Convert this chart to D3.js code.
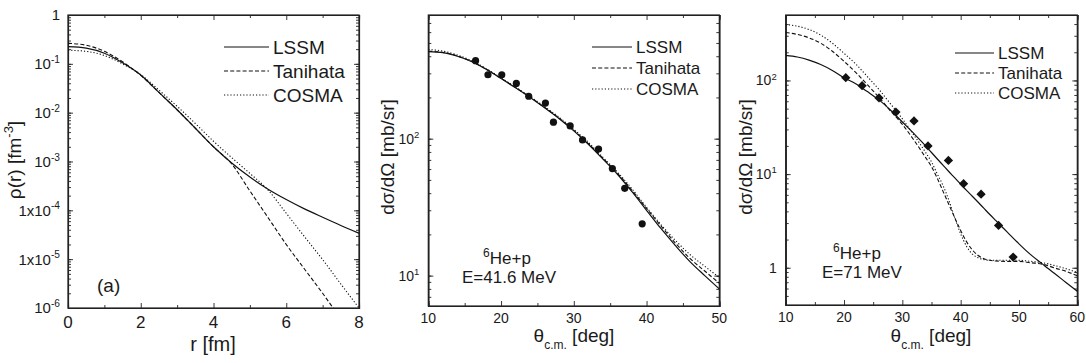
<!DOCTYPE html>
<html><head><meta charset="utf-8">
<script src="https://cdn.jsdelivr.net/npm/d3@7"></script>
<style>
html,body{margin:0;padding:0;background:#fff;}
svg text{font-family:"Liberation Sans",Arial,Helvetica,sans-serif;fill:#1a1a1a;}
</style></head>
<body>
<svg id="chart" width="1086" height="363"></svg>
<script>
// ---------- Panel (a): density rho(r) ----------
const rGrid = [0,0.5,1,1.5,2,2.5,3,3.5,4,4.5,5,5.5,6,6.5,7,7.5,8];
const rhoLSSM = [0.225,0.21,0.165,0.105,0.059,0.026,0.0115,4.8e-3,2.0e-3,9.3e-4,4.8e-4,2.7e-4,1.66e-4,1.07e-4,7.2e-5,4.9e-5,3.4e-5];
const rhoTanihata = [0.263,0.24,0.18,0.11,0.058,0.026,0.0114,4.8e-3,2.0e-3,8.9e-4,2.5e-4,7.1e-5,2.0e-5,6.3e-6,2.0e-6,6.0e-7,1.8e-7];
const rhoCOSMA = [0.19,0.18,0.148,0.1,0.06,0.029,0.0135,6.0e-3,2.6e-3,1.2e-3,5.7e-4,2.6e-4,8.7e-5,2.9e-5,9.8e-6,3.1e-6,1.0e-6];

// ---------- Panel (b): 6He+p at 41.6 MeV ----------
const thB = [10,12,14,16,18,20,22,24,26,28,30,32,34,36,38,40,42,44,46,48,50];
const sigB_LSSM = [432,425,400,365,320,275,235,200,168,140,114,91,71,55,41,30,22,16.5,12.6,10,8.0];
const sigB_Tanihata = [435,427,402,366,321,276,236,201,169,141,115,92,72,56,42,31,23,17.2,13.3,10.8,8.8];
const sigB_COSMA = [448,436,408,370,324,278,238,203,171,143,117,94,73,57,43,31.5,23.5,18,14.2,11.7,9.7];
const expB_theta = [16.5,18.2,20.1,22.1,23.8,26.1,27.2,29.5,31.2,33.4,35.3,37.0,39.4];
const expB_sigma = [371,293,293,253,204,182,132,124,98,84,60.5,43.4,23.9];

// ---------- Panel (c): 6He+p at 71 MeV ----------
const thC = [10,12,14,16,18,20,22,24,26,28,30,32,34,35,36,37,38,39,40,41,42,43,44,45,46,48,50,52,54,55,56,58,60];
const sigC_LSSM = [185,178,165,148,128,107,92,76,62,48,36,27,20,17,14.5,12.4,10.6,9.1,7.8,6.7,5.8,5.0,4.3,3.7,3.2,2.4,1.8,1.38,1.1,0.98,0.88,0.7,0.56];
const sigC_Tanihata = [325,310,285,250,205,160,122,90,66,47,34,23,15,12,9,6.5,4.7,3.4,2.5,1.9,1.55,1.35,1.25,1.2,1.18,1.17,1.17,1.13,1.09,1.05,1.0,0.92,0.82];
const sigC_COSMA = [395,380,350,305,250,195,150,110,80,56,39,26,17,13.5,10,7.5,5.2,3.4,2.3,1.7,1.4,1.28,1.22,1.2,1.2,1.2,1.2,1.17,1.13,1.1,1.06,0.98,0.89];
const expC_theta = [20.3,23.1,26.0,28.9,32.0,34.4,37.9,40.5,43.5,46.5,49.0];
const expC_sigma = [107,88,65,46,37,20,14,7.9,6.1,2.83,1.3];

const seriesNames = ["LSSM","Tanihata","COSMA"];
const dashes = [null,"4,2.2","1.2,2"];

const svg = d3.select("#chart");

function logMinorTicks(domain){
  const out=[]; const lo=Math.floor(Math.log10(domain[0])), hi=Math.ceil(Math.log10(domain[1]));
  for(let e=lo;e<=hi;e++) for(let m=1;m<10;m++){const v=m*Math.pow(10,e); if(v>=domain[0]*0.999&&v<=domain[1]*1.001) out.push(v);}
  return out;
}

function panel(cfg){
  const g = svg.append("g");
  const x = d3.scaleLinear().domain(cfg.xDomain).range([cfg.left,cfg.right]);
  const y = d3.scaleLog().domain(cfg.yDomain).range([cfg.bottom,cfg.top]);
  const W = cfg.right-cfg.left, H = cfg.bottom-cfg.top;
  const majL=5, minL=3;
  const xMajor = d3.range(cfg.xDomain[0], cfg.xDomain[1]+1e-9, cfg.xStep);
  const xMinor = d3.range(cfg.xDomain[0], cfg.xDomain[1]+1e-9, cfg.xStep/2).filter(v=>!xMajor.some(m=>Math.abs(m-v)<1e-9));
  const yMinor = logMinorTicks(cfg.yDomain);
  const axB = g.append("g").attr("transform",`translate(0,${cfg.bottom})`);
  axB.call(d3.axisBottom(x).tickValues(xMajor).tickSize(-majL).tickFormat(""));
  axB.append("g").call(d3.axisBottom(x).tickValues(xMinor).tickSize(-minL).tickFormat(""));
  const axT = g.append("g").attr("transform",`translate(0,${cfg.top})`);
  axT.call(d3.axisTop(x).tickValues(xMajor).tickSize(-majL).tickFormat(""));
  axT.append("g").call(d3.axisTop(x).tickValues(xMinor).tickSize(-minL).tickFormat(""));
  const axL = g.append("g").attr("transform",`translate(${cfg.left},0)`);
  axL.call(d3.axisLeft(y).tickValues(cfg.yMajor).tickSize(-majL).tickFormat(""));
  axL.append("g").call(d3.axisLeft(y).tickValues(yMinor).tickSize(-minL).tickFormat(""));
  const axR = g.append("g").attr("transform",`translate(${cfg.right},0)`);
  axR.call(d3.axisRight(y).tickValues(cfg.yMajor).tickSize(-majL).tickFormat(""));
  axR.append("g").call(d3.axisRight(y).tickValues(yMinor).tickSize(-minL).tickFormat(""));
  g.selectAll(".domain").attr("stroke","#222").attr("stroke-width",1.1);
  g.selectAll(".tick line").attr("stroke","#222").attr("stroke-width",0.9);
  g.append("rect").attr("x",cfg.left).attr("y",cfg.top).attr("width",W).attr("height",H)
    .attr("fill","none").attr("stroke","#222").attr("stroke-width",1.2);

  g.selectAll("text.xt").data(xMajor).enter().append("text").attr("class","xt")
    .attr("x",d=>x(d)).attr("y",cfg.bottom+cfg.xLabDy).attr("text-anchor","middle")
    .attr("font-size",cfg.xTickFs).text(d=>d);
  cfg.yLabels.forEach((lab,i)=>{
    const t = g.append("text").attr("x",cfg.left-cfg.yLabGap).attr("y",y(cfg.yMajor[i])+cfg.tickFs*0.36)
      .attr("text-anchor","end").attr("font-size",cfg.tickFs);
    t.append("tspan").text(lab[0]);
    if(lab[1]) t.append("tspan").attr("dy",-cfg.tickFs*0.42).attr("font-size",cfg.tickFs*0.68).text(lab[1]);
  });

  const line = d3.line().x(d=>x(d[0])).y(d=>y(d[1])).curve(d3.curveMonotoneX);
  const clipId = "clip"+cfg.id;
  svg.append("clipPath").attr("id",clipId).append("rect").attr("x",cfg.left).attr("y",cfg.top).attr("width",W).attr("height",H);
  cfg.curves.forEach((vals,i)=>{
    g.append("path").datum(cfg.xs.map((v,j)=>[v,vals[j]]))
      .attr("d",line).attr("fill","none").attr("stroke","#111")
      .attr("stroke-width",i===0?1.2:1.1).attr("stroke-dasharray",dashes[i])
      .attr("clip-path",`url(#${clipId})`);
  });

  if(cfg.exp){
    const pts = cfg.exp.x.map((v,j)=>[v,cfg.exp.y[j]]);
    if(cfg.exp.shape==="circle"){
      g.selectAll("circle.pt").data(pts).enter().append("circle").attr("class","pt")
        .attr("cx",d=>x(d[0])).attr("cy",d=>y(d[1])).attr("r",3.6).attr("fill","#111");
    } else {
      const sym = d3.symbol().type(d3.symbolDiamond2).size(55);
      g.selectAll("path.pt").data(pts).enter().append("path").attr("class","pt")
        .attr("transform",d=>`translate(${x(d[0])},${y(d[1])})`).attr("d",sym).attr("fill","#111");
    }
  }

  seriesNames.forEach((nm,i)=>{
    const ly = cfg.leg.y0 + i*cfg.leg.dy;
    g.append("line").attr("x1",cfg.leg.x1).attr("x2",cfg.leg.x2).attr("y1",ly).attr("y2",ly)
      .attr("stroke","#111").attr("stroke-width",i===0?1.2:1.1).attr("stroke-dasharray",dashes[i]);
    g.append("text").attr("x",cfg.leg.tx).attr("y",ly+cfg.leg.fs*0.36).attr("font-size",cfg.leg.fs).text(nm);
  });

  cfg.titles(g, x, y);
  return g;
}

// Panel (a)
panel({
  id:"a", left:68, right:359, top:15, bottom:308,
  xDomain:[0,8], xStep:2, yDomain:[1e-6,1],
  yMajor:[1,1e-1,1e-2,1e-3,1e-4,1e-5,1e-6],
  yLabels:[["1",""],["10","-1"],["10","-2"],["10","-3"],["1x10","-4"],["1x10","-5"],["10","-6"]],
  tickFs:15, xTickFs:17, xLabDy:20, yLabGap:8,
  xs:rGrid, curves:[rhoLSSM,rhoTanihata,rhoCOSMA],
  leg:{x1:224,x2:269,tx:273,y0:47,dy:24,fs:19},
  titles:(g)=>{
    g.append("text").attr("x",213).attr("y",351).attr("text-anchor","middle").attr("font-size",20).text("r [fm]");
    const t=g.append("text").attr("transform","translate(21,160) rotate(-90)").attr("text-anchor","middle").attr("font-size",19);
    t.append("tspan").text("ρ(r) [fm");
    t.append("tspan").attr("dy",-8).attr("font-size",13).text("-3");
    t.append("tspan").attr("dy",8).text("]");
    g.append("text").attr("x",97).attr("y",292).attr("font-size",19).text("(a)");
  }
});

function thetaTitle(g,cx){
  const t=g.append("text").attr("x",cx).attr("y",342).attr("text-anchor","middle").attr("font-size",19);
  t.append("tspan").text("θ");
  t.append("tspan").attr("dy",7).attr("font-size",12).text("c.m.");
  t.append("tspan").attr("dy",-7).text(" [deg]");
}
function sigmaTitle(g,cx,cy){
  g.append("text").attr("transform",`translate(${cx},${cy}) rotate(-90)`).attr("text-anchor","middle")
    .attr("font-size",19).text("dσ/dΩ [mb/sr]");
}
function reaction(g,cx,by,energy,ex){
  const t=g.append("text").attr("x",cx).attr("y",by).attr("text-anchor","middle").attr("font-size",17);
  t.append("tspan").attr("dy",-7).attr("font-size",12).text("6");
  t.append("tspan").attr("dy",7).text("He+p");
  g.append("text").attr("x",ex).attr("y",by+19).attr("font-size",17).text(energy);
}

// Panel (b)
panel({
  id:"b", left:428.3, right:719.3, top:15, bottom:306,
  xDomain:[10,50], xStep:10, yDomain:[6,800],
  yMajor:[100,10], yLabels:[["10","2"],["10","1"]],
  tickFs:14, xTickFs:14, xLabDy:17, yLabGap:9,
  xs:thB, curves:[sigB_LSSM,sigB_Tanihata,sigB_COSMA],
  exp:{x:expB_theta,y:expB_sigma,shape:"circle"},
  leg:{x1:592,x2:632,tx:636,y0:47,dy:21,fs:17},
  titles:(g)=>{ thetaTitle(g,574); sigmaTitle(g,394,157); reaction(g,507,264,"E=41.6 MeV",462); }
});

// Panel (c)
panel({
  id:"c", left:785.7, right:1077.3, top:15, bottom:305,
  xDomain:[10,60], xStep:10, yDomain:[0.4,500],
  yMajor:[100,10,1], yLabels:[["10","2"],["10","1"],["1",""]],
  tickFs:14, xTickFs:14, xLabDy:17, yLabGap:9,
  xs:thC, curves:[sigC_LSSM,sigC_Tanihata,sigC_COSMA],
  exp:{x:expC_theta,y:expC_sigma,shape:"diamond"},
  leg:{x1:955,x2:994,tx:998,y0:53,dy:20,fs:17},
  titles:(g)=>{ thetaTitle(g,931); sigmaTitle(g,752,157); reaction(g,857,259,"E=71 MeV",822); }
});
</script>
</body></html>
